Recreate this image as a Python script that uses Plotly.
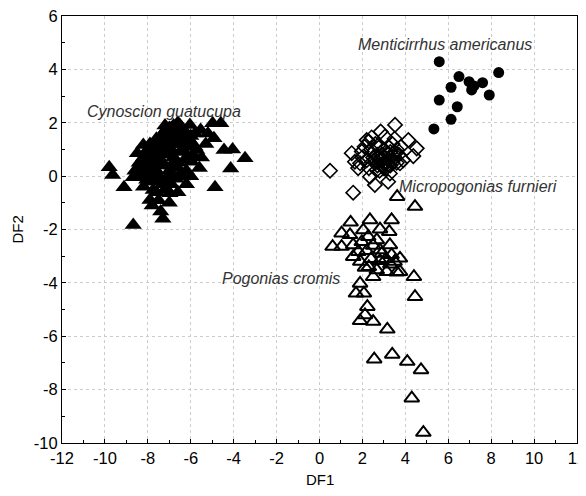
import plotly.graph_objects as go

# Cynoscion guatucupa (filled triangles)
cyn_x = [-9.8, -9.64, -9.11, -8.68, -8.68, -8.49, -7.9, -7.4, -6.97, -6.58, -6.0, -4.87, -4.14, -3.47,
         -4.45, -4.05, -4.92, -4.98, -4.6, -5.54, -6.04, -6.97, -8.21, -8.05, -7.67, -7.2, -7.75, -7.1,
         -8.37, -5.96, -5.72, -6.19,
         -8.3, -8.0, -7.8, -7.5, -7.2, -7.0, -6.7, -6.5, -6.3, -6.8, -7.1, -7.4, -7.7, -8.0, -7.5, -7.0,
         -6.6, -6.2, -5.9, -6.0, -5.8, -6.4, -6.8, -7.3, -7.6, -7.9, -8.1, -6.9, -6.4, -7.3, -6.9, -7.6,
         -7.0, -7.5, -8.2, -6.2, -5.6, -5.3, -5.5, -7.2, -6.5, -5.2, -7.8, -7.3, -8.4, -6.6,
         -8.6, -8.4, -8.2, -8.0, -7.8, -7.6, -7.4, -7.2, -7.0, -6.8, -6.6, -6.4, -6.2, -6.0, -6.1, -6.3,
         -6.5, -6.7, -6.9, -7.1, -7.3, -7.5, -7.7, -7.9, -8.1, -8.3, -7.6, -7.2, -6.8, -6.4, -6.1, -5.8,
         -6.6, -7.0, -7.8, -7.2, -6.7, -7.9, -7.4, -6.9]
cyn_y = [0.33, 0.04, -0.42, -1.83, -0.04, 0.86, -0.89, -1.33, -0.64, -0.02, 0.0, -0.42, 0.29, 0.67,
         0.98, 1.0, 1.42, 1.98, 1.98, 1.73, 1.92, 1.79, 1.17, -0.14, -0.2, -0.15, -0.52, -0.52,
         0.23, 0.54, 0.98, 1.23,
         0.4, 0.6, 0.9, 1.1, 1.3, 1.5, 1.2, 0.9, 0.6, 0.5, 0.8, 0.5, 0.3, 0.1, 0.0, 0.2,
         0.3, 0.2, 0.8, 1.3, 1.6, 1.5, 1.7, 1.6, 1.4, 1.2, 0.9, 1.0, 0.0, -0.3, -0.3, -0.6,
         -1.0, -0.9, -0.4, -0.3, 0.3, 1.2, 0.7, 1.9, 1.9, 1.6, -1.1, -1.6, 0.0, -0.6,
         0.2, 0.5, 0.7, 0.9, 1.1, 1.3, 1.5, 1.7, 1.8, 1.9, 2.0, 1.8, 1.6, 1.5, 1.1, 1.2,
         1.4, 1.5, 1.3, 1.1, 0.9, 0.7, 0.6, 0.4, 0.3, 0.1, 0.2, 0.4, 0.7, 1.0, 0.7, 1.1,
         0.5, 0.0, -0.2, -0.5, -0.1, 0.7, 1.0, 0.4]

# Menticirrhus americanus (filled circles)
men_x = [5.58, 6.5, 6.97, 7.6, 8.35, 6.13, 7.09, 7.91, 5.58, 6.42, 6.13, 5.33, 7.2]
men_y = [4.29, 3.73, 3.54, 3.5, 3.88, 3.33, 3.23, 3.04, 2.85, 2.6, 2.13, 1.77, 3.38]

# Micropogonias furnieri (open diamonds)
mic_x = [3.52, 2.85, 2.43, 3.05, 1.5, 1.97, 1.65, 4.53, 4.37, 4.14, 3.75, 2.35, 2.58, 3.2, 0.49, 1.57,
         2.66, 3.28, 2.2, 1.89,
         2.6, 2.8, 3.0, 3.2, 3.4, 2.9, 3.1, 3.3, 2.7, 3.0, 3.5, 2.5, 2.4, 2.8, 3.2, 3.6, 2.2, 2.0,
         3.7, 3.0, 3.4, 2.6, 3.9, 1.8, 2.3,
         2.7, 2.9, 3.1, 3.3, 3.5, 3.1, 2.9, 3.2, 3.0, 3.4, 2.8, 3.6, 3.3, 2.6, 3.8, 3.5, 2.3, 2.1]
mic_y = [1.92, 1.67, 1.45, 1.48, 0.86, 0.92, 0.54, 1.04, 0.75, 1.35, 0.48, -0.02, -0.33, -0.21, 0.2, -0.62,
         0.23, 0.1, 1.35, 0.48,
         0.5, 0.6, 0.7, 0.8, 0.6, 0.4, 0.3, 0.4, 0.8, 1.0, 0.9, 0.7, 1.0, 1.1, 1.1, 0.5, 0.6, 0.7,
         0.8, 0.5, 1.2, 1.2, 0.6, 0.3, 0.3,
         0.4, 0.6, 0.5, 0.7, 0.7, 0.9, 0.8, 0.6, 0.3, 0.5, 0.2, 1.0, 0.9, 0.6, 1.1, 1.4, 1.3, 1.1]

# Pogonias cromis (open triangles)
pog_x = [3.62, 4.45, 1.45, 2.35, 3.36, 1.03, 1.42, 2.04, 2.82, 3.25, 0.61, 1.03, 1.57, 1.97, 2.27, 2.67,
         2.82, 3.28, 1.57, 1.81, 3.36, 3.75, 2.82, 2.12, 2.67, 3.13, 3.75, 4.4, 2.5, 1.89, 1.7, 2.07,
         4.45, 2.23, 2.12, 1.89, 2.5, 3.16, 2.55, 3.39, 4.09, 4.73, 4.3, 4.84,
         2.2, 2.5, 1.9, 2.4, 3.1, 3.5, 3.6, 2.3, 2.9, 3.3]
pog_y = [-0.77, -1.14, -1.73, -1.64, -1.64, -2.14, -2.2, -2.02, -1.99, -2.08, -2.64, -2.64, -2.58, -2.46,
         -2.27, -2.39, -2.77, -2.58, -3.02, -2.83, -2.95, -3.08, -3.17, -3.42, -3.52, -3.58, -3.58,
         -3.77, -3.77, -4.02, -4.39, -4.39, -4.52, -4.89, -5.2, -5.42, -5.45, -5.74, -6.86, -6.68,
         -6.95, -7.26, -8.32, -9.61,
         -2.8, -2.6, -3.2, -3.1, -3.1, -3.2, -3.6, -3.4, -2.9, -3.3]

labels = ["Cynoscion guatucupa", "Menticirrhus americanus", "Micropogonias furnieri", "Pogonias cromis"]
label_x = [-10.95, 1.7, 3.62, -4.63]
label_y = [2.41, 4.93, -0.4, -3.82]

x_ticks = list(range(-12, 13, 2))
y_ticks = list(range(-10, 7, 2))

FONT = "Arial, Liberation Sans, sans-serif"

fig = go.Figure()
fig.add_trace(go.Scatter(x=cyn_x, y=cyn_y, mode="markers", name=labels[0],
                         marker=dict(symbol="triangle-up", size=15, color="black")))
fig.add_trace(go.Scatter(x=men_x, y=men_y, mode="markers", name=labels[1],
                         marker=dict(symbol="circle", size=11, color="black")))
fig.add_trace(go.Scatter(x=mic_x, y=mic_y, mode="markers", name=labels[2],
                         marker=dict(symbol="diamond-open", size=11, color="black",
                                     line=dict(width=1.6, color="black"))))
fig.add_trace(go.Scatter(x=pog_x, y=pog_y, mode="markers", name=labels[3],
                         marker=dict(symbol="triangle-up-open", size=13, color="black",
                                     line=dict(width=2, color="black"))))

for t, lx, ly in zip(labels, label_x, label_y):
    fig.add_annotation(x=lx, y=ly, text="<i>" + t + "</i>", showarrow=False, xanchor="left",
                       yanchor="middle", font=dict(family=FONT, size=16, color="#333333"))

# axis titles
fig.add_annotation(x=0.5, y=0, xref="paper", yref="paper", yshift=-36, text="DF1", showarrow=False,
                   xanchor="center", yanchor="middle", font=dict(family=FONT, size=15, color="black"))
fig.add_annotation(x=0, y=0.5, xref="paper", yref="paper", xshift=-45, text="DF2", showarrow=False,
                   textangle=-90, xanchor="center", yanchor="middle",
                   font=dict(family=FONT, size=15, color="black"))

axis_common = dict(showline=True, linecolor="black", linewidth=1, mirror=True,
                   ticks="inside", ticklen=4, tickcolor="black",
                   showgrid=True, gridcolor="#cccccc", griddash="dot", gridwidth=1,
                   zeroline=False, automargin=False, ticklabeloverflow="allow",
                   tickfont=dict(family=FONT, size=16.5, color="black"),
                   minor=dict(dtick=1, ticks="inside", ticklen=3, tickcolor="black", showgrid=False))

fig.update_xaxes(range=[-12, 12], tickvals=x_ticks, ticktext=[str(v) for v in x_ticks], **axis_common)
fig.update_yaxes(range=[-10, 6], tickvals=y_ticks, ticktext=[str(v) for v in y_ticks], **axis_common)

# page body has an 8px margin; the figure is placed so the plot area lines up with the window
fig.update_layout(width=578, height=480, showlegend=False,
                  plot_bgcolor="white", paper_bgcolor="white",
                  margin=dict(l=54, r=9, t=8, b=45))

fig.write_html("out.html")
